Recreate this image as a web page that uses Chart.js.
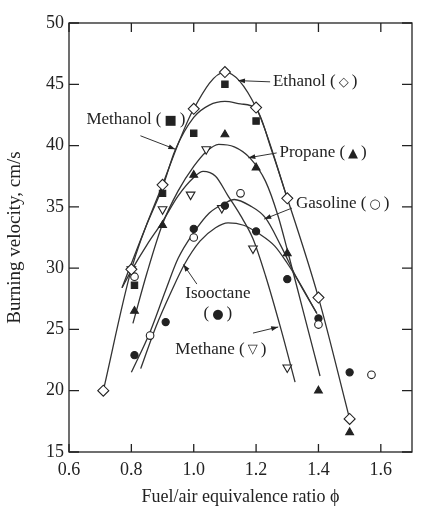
<!DOCTYPE html>
<html>
<head>
<meta charset="utf-8">
<script src="https://cdn.jsdelivr.net/npm/chart.js@4.4.0/dist/chart.umd.min.js"></script>
<style>
  html, body { margin: 0; padding: 0; background: #fff; }
  #wrap { width: 435px; height: 524px; }
</style>
</head>
<body>
<div id="wrap"><canvas id="chart" width="435" height="524"></canvas></div>
<script>
// tick labels
const xTickValues = [0.6, 0.8, 1.0, 1.2, 1.4, 1.6];
const yTickValues = [15, 20, 25, 30, 35, 40, 45, 50];

const ethanolPhi   = [0.71, 0.80, 0.90, 1.00, 1.10, 1.20, 1.30, 1.40, 1.50];
const ethanolSpeed = [20.0, 29.9, 36.8, 43.0, 46.0, 43.1, 35.7, 27.6, 17.7];

const methanolPhi   = [0.81, 0.90, 1.00, 1.10, 1.20];
const methanolSpeed = [28.6, 36.1, 41.0, 45.0, 42.0];

const propanePhi   = [0.81, 0.90, 1.00, 1.10, 1.20, 1.30, 1.40, 1.50];
const propaneSpeed = [26.5, 33.5, 37.6, 40.9, 38.2, 31.2, 20.0, 16.6];

const gasolinePhi   = [0.81, 0.86, 1.00, 1.15, 1.40, 1.57];
const gasolineSpeed = [29.3, 24.5, 32.5, 36.1, 25.4, 21.3];

const isooctanePhi   = [0.81, 0.91, 1.00, 1.10, 1.20, 1.30, 1.40, 1.50];
const isooctaneSpeed = [22.9, 25.6, 33.2, 35.1, 33.0, 29.1, 25.9, 21.5];

const methanePhi   = [0.80, 0.90, 0.99, 1.04, 1.09, 1.19, 1.30];
const methaneSpeed = [29.9, 34.8, 36.0, 39.7, 34.9, 31.6, 21.9];

// fitted curves
const ethanolFitPhi   = [0.71, 0.80, 0.90, 1.00, 1.10, 1.20, 1.30, 1.40, 1.50];
const ethanolFitSpeed = [20.0, 29.9, 36.8, 43.0, 46.0, 43.1, 35.7, 27.6, 17.7];

const methanolFitPhi   = [0.77, 0.85, 0.90, 0.94, 1.00, 1.05, 1.10, 1.15, 1.20, 1.25, 1.30];
const methanolFitSpeed = [28.4, 33.6, 36.6, 39.6, 42.3, 43.3, 43.6, 43.4, 43.0, 39.6, 35.7];

const propaneFitPhi   = [0.805, 0.85, 0.90, 0.95, 1.00, 1.04, 1.08, 1.13, 1.18, 1.23, 1.27, 1.30, 1.35, 1.405];
const propaneFitSpeed = [25.5, 29.6, 33.6, 36.3, 38.3, 39.5, 40.1, 39.9, 39.0, 37.1, 34.3, 31.5, 26.6, 21.2];

const methaneFitPhi   = [0.77, 0.80, 0.85, 0.90, 0.95, 1.00, 1.03, 1.07, 1.11, 1.15, 1.19, 1.23, 1.28, 1.325];
const methaneFitSpeed = [28.4, 29.8, 31.9, 33.8, 35.9, 37.4, 37.9, 37.5, 35.9, 34.3, 32.4, 29.4, 25.0, 20.7];

const gasolineFitPhi   = [0.80, 0.86, 0.91, 0.95, 1.00, 1.05, 1.10, 1.13, 1.18, 1.23, 1.28, 1.33, 1.395];
const gasolineFitSpeed = [21.5, 24.8, 28.2, 30.8, 32.9, 34.5, 35.3, 35.6, 35.1, 34.1, 31.8, 29.2, 26.3];

const isooctaneFitPhi   = [0.83, 0.88, 0.93, 0.97, 1.02, 1.07, 1.11, 1.16, 1.21, 1.26, 1.30, 1.33, 1.395];
const isooctaneFitSpeed = [21.8, 25.3, 28.2, 30.3, 32.2, 33.3, 33.7, 33.5, 32.8, 31.8, 30.4, 29.2, 26.3];

// labels with leader arrows (data units)
const notes = [
  { name: 'Ethanol', sym: '◇', x: 1.254, y: 45.2, from: [1.245, 45.2], to: [1.142, 45.3] },
  { name: 'Methanol', sym: '■', x: 0.656, y: 42.1, from: [0.829, 40.8], to: [0.941, 39.7] },
  { name: 'Propane', sym: '▲', x: 1.275, y: 39.4, from: [1.266, 39.4], to: [1.175, 39.0] },
  { name: 'Gasoline', sym: '○', x: 1.328, y: 35.3, from: [1.315, 34.9], to: [1.226, 34.0] },
  { name: 'Isooctane', sym: '●', x: 0.973, y: 27.95, from: [1.010, 28.7], to: [0.967, 30.3], twoLines: true },
  { name: 'Methane', sym: '▽', x: 0.941, y: 23.4, from: [1.190, 24.7], to: [1.271, 25.2] }
];

const INK = '#222';
const SERIF = "'Liberation Serif', 'Times New Roman', serif";
const SYM_FONT = '13px DejaVu Sans';

function toPoints(xs, ys) {
    return xs.map((x, i) => ({ x: x, y: ys[i] }));
}

function curve(xs, ys) {
    return {
        data: toPoints(xs, ys),
        showLine: true,
        pointRadius: 0,
        borderColor: '#333',
        borderWidth: 1.3,
        cubicInterpolationMode: 'monotone',
        fill: false,
        order: 1
    };
}

function markers(xs, ys, style, radius, filled, rotation) {
    return {
        data: toPoints(xs, ys),
        showLine: false,
        pointStyle: style,
        pointRadius: radius,
        pointRotation: rotation || 0,
        pointBackgroundColor: filled ? INK : '#fff',
        pointBorderColor: INK,
        pointBorderWidth: 1.1,
        order: 0
    };
}

// frame with inward ticks on all four sides
const frameTicks = {
    id: 'frameTicks',
    afterDraw(chart) {
        const { ctx, chartArea: a, scales: { x, y } } = chart;
        ctx.save();
        ctx.strokeStyle = INK;
        ctx.lineWidth = 1.3;
        ctx.strokeRect(a.left, a.top, a.right - a.left, a.bottom - a.top);
        ctx.beginPath();
        xTickValues.forEach(v => {
            const px = x.getPixelForValue(v);
            ctx.moveTo(px, a.bottom); ctx.lineTo(px, a.bottom - 8);
            ctx.moveTo(px, a.top); ctx.lineTo(px, a.top + 9);
        });
        yTickValues.forEach(v => {
            const py = y.getPixelForValue(v);
            ctx.moveTo(a.left, py); ctx.lineTo(a.left + 10, py);
            ctx.moveTo(a.right, py); ctx.lineTo(a.right - 10, py);
        });
        ctx.stroke();
        ctx.restore();
    }
};

function drawSym(ctx, sx, cy, sym) {
    // "( sym )" starting at sx, returns nothing
    ctx.font = '17px ' + SERIF;
    ctx.fillText('(', sx, cy);
    const p = ctx.measureText('(').width;
    ctx.font = SYM_FONT;
    const sw = ctx.measureText(sym).width;
    ctx.fillText(sym, sx + p + 3, cy + 1);
    ctx.font = '17px ' + SERIF;
    ctx.fillText(')', sx + p + sw + 6, cy);
    return p * 2 + sw + 6;
}

// curve names and leader arrows
const labels = {
    id: 'labels',
    afterDatasetsDraw(chart) {
        const { ctx, scales: { x, y } } = chart;
        ctx.save();
        ctx.fillStyle = INK;
        ctx.strokeStyle = '#333';
        ctx.lineWidth = 1;
        notes.forEach(n => {
            // arrow
            const x0 = x.getPixelForValue(n.from[0]), y0 = y.getPixelForValue(n.from[1]);
            const x1 = x.getPixelForValue(n.to[0]), y1 = y.getPixelForValue(n.to[1]);
            ctx.beginPath();
            ctx.moveTo(x0, y0);
            ctx.lineTo(x1, y1);
            ctx.stroke();
            const ang = Math.atan2(y1 - y0, x1 - x0);
            ctx.beginPath();
            ctx.moveTo(x1, y1);
            ctx.lineTo(x1 - 7 * Math.cos(ang) + 2.5 * Math.sin(ang), y1 - 7 * Math.sin(ang) - 2.5 * Math.cos(ang));
            ctx.lineTo(x1 - 7 * Math.cos(ang) - 2.5 * Math.sin(ang), y1 - 7 * Math.sin(ang) + 2.5 * Math.cos(ang));
            ctx.closePath();
            ctx.fill();

            // text
            const tx = x.getPixelForValue(n.x), ty = y.getPixelForValue(n.y);
            ctx.textBaseline = 'middle';
            ctx.textAlign = 'left';
            ctx.font = '17px ' + SERIF;
            const w = ctx.measureText(n.name).width;
            ctx.fillText(n.name, tx, ty);
            if (n.twoLines) {
                ctx.font = SYM_FONT;
                const sw = ctx.measureText(n.sym).width;
                ctx.font = '17px ' + SERIF;
                const total = ctx.measureText('()').width + sw + 6;
                drawSym(ctx, tx + w / 2 - total / 2, ty + 20, n.sym);
            } else {
                const sp = ctx.measureText(' ').width;
                drawSym(ctx, tx + w + sp, ty, n.sym);
            }
        });
        ctx.restore();
    }
};

const ctx = document.getElementById('chart').getContext('2d');
new Chart(ctx, {
    type: 'scatter',
    data: {
        datasets: [
            markers(ethanolPhi, ethanolSpeed, 'rectRot', 5.5, false),
            markers(methanolPhi, methanolSpeed, 'rect', 4.5, true),
            markers(propanePhi, propaneSpeed, 'triangle', 4.5, true),
            markers(gasolinePhi, gasolineSpeed, 'circle', 3.8, false),
            markers(isooctanePhi, isooctaneSpeed, 'circle', 3.6, true),
            markers(methanePhi, methaneSpeed, 'triangle', 5, false, 180),
            curve(ethanolFitPhi, ethanolFitSpeed),
            curve(methanolFitPhi, methanolFitSpeed),
            curve(propaneFitPhi, propaneFitSpeed),
            curve(methaneFitPhi, methaneFitSpeed),
            curve(gasolineFitPhi, gasolineFitSpeed),
            curve(isooctaneFitPhi, isooctaneFitSpeed)
        ]
    },
    options: {
        responsive: false,
        animation: false,
        events: [],
        layout: { padding: { left: 0, right: 23, top: 23, bottom: 0 } },
        plugins: {
            legend: { display: false },
            tooltip: { enabled: false }
        },
        scales: {
            x: {
                type: 'linear',
                min: 0.6,
                max: 1.7,
                afterFit(scale) { scale.height = 72; },
                afterBuildTicks(scale) { scale.ticks = xTickValues.map(v => ({ value: v })); },
                grid: { display: false, drawTicks: false },
                border: { display: false },
                ticks: {
                    color: INK,
                    padding: 7,
                    font: { family: SERIF, size: 18 },
                    callback: v => v.toFixed(1)
                },
                title: {
                    display: true,
                    text: 'Fuel/air equivalence ratio ϕ',
                    color: INK,
                    font: { family: SERIF, size: 18 },
                    padding: { top: 0, bottom: 16 }
                }
            },
            y: {
                type: 'linear',
                min: 15,
                max: 50,
                afterFit(scale) { scale.width = 69; },
                afterBuildTicks(scale) { scale.ticks = yTickValues.map(v => ({ value: v })); },
                grid: { display: false, drawTicks: false },
                border: { display: false },
                ticks: {
                    color: INK,
                    padding: 5,
                    font: { family: SERIF, size: 18 },
                    callback: v => String(v)
                },
                title: {
                    display: true,
                    text: 'Burning velocity, cm/s',
                    color: INK,
                    font: { family: SERIF, size: 19 },
                    padding: { top: 4, bottom: 0 }
                }
            }
        }
    },
    plugins: [frameTicks, labels]
});
</script>
</body>
</html>
